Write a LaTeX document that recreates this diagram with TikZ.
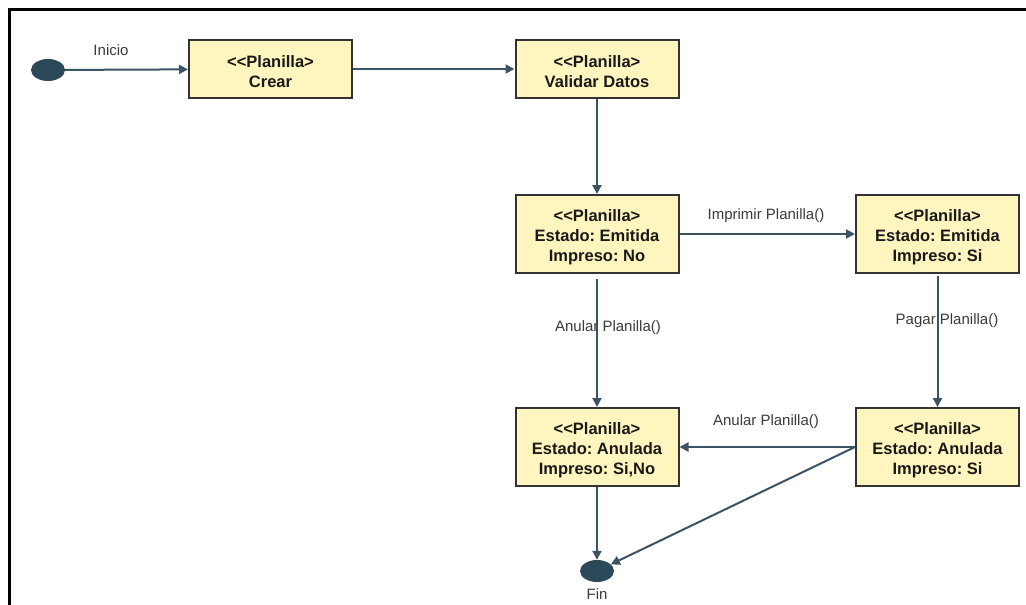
\documentclass[tikz,border=0pt]{standalone}
\usepackage{fontspec}
\setmainfont{Liberation Sans}[Ligatures=NoCommon]
\usetikzlibrary{arrows.meta,shapes.geometric}
\definecolor{boxfill}{HTML}{FFF6BF}
\definecolor{boxline}{HTML}{333333}
\definecolor{flow}{HTML}{3B5362}
\definecolor{blob}{HTML}{2C4959}
\definecolor{lbl}{HTML}{3A3A3A}
% stereotype line with a strut that sets the text a little lower in its box
\newcommand{\stereo}[1]{\rule{0pt}{18pt}{<}{<}#1{>}}
\tikzset{
  state/.style={draw=boxline, line width=2pt, fill=boxfill, rectangle,
    minimum width=163pt, align=center, text=black!90,
    font=\fontsize{16.5}{20}\selectfont\bfseries\frenchspacing, inner sep=0pt},
  twoline/.style={state, minimum height=58pt},
  threeline/.style={state, minimum height=78pt},
  terminal/.style={ellipse, fill=blob, draw=none, minimum width=34pt, minimum height=22pt, inner sep=0pt},
  flowline/.style={draw=flow, line width=2pt, -{Triangle[length=9pt,width=9pt]}},
  tlabel/.style={text=lbl, font=\fontsize{15}{16}\selectfont, inner sep=0pt}
}
\begin{document}
\begin{tikzpicture}[x=1pt,y=-1pt]
\useasboundingbox (0,0) rectangle (1026,605);
% frame
\draw[line width=3pt, black] (9.5,605) -- (9.5,9.5) -- (1026,9.5);

% states
\node[terminal] (ini) at (48,70) {};
\node[twoline] (crear) at (270.5,69) {\stereo{Planilla}\\Crear};
\node[twoline] (valid) at (597,69) {\stereo{Planilla}\\Validar Datos};
\node[threeline] (emno) at (597,234) {\stereo{Planilla}\\Estado: Emitida\\Impreso: No};
\node[threeline] (emsi) at (937.5,234) {\stereo{Planilla}\\Estado: Emitida\\Impreso: Si};
\node[threeline] (ansino) at (597,447) {\stereo{Planilla}\\Estado: Anulada\\Impreso: Si,No};
\node[threeline] (ansi) at (937.5,447) {\stereo{Planilla}\\Estado: Anulada\\Impreso: Si};
\node[terminal] (fin) at (597,571) {};

% transitions
\draw[flowline] (ini) -- (crear);
\draw[flowline] (crear) -- (valid);
\draw[flowline] (valid) -- (emno);
\draw[flowline] (emno) -- (emsi);
\draw[flowline, shorten <=5pt] (emno.south) -- (ansino.north);
\draw[flowline, shorten <=2pt] (emsi.south) -- (ansi.north);
\draw[flowline] (ansi.west) -- (ansino.east);
\draw[flowline] (ansino) -- (fin);
\draw[flowline] (ansi.west) -- (fin);

% labels
\node[tlabel] (linicio) at (111,50) {Inicio};
\node[tlabel] (limp) at (766,216) {Imprimir Planilla()};
\node[tlabel] (lanu1) at (608,328) {Anular Planilla()};
\node[tlabel] (lpag) at (947,321) {Pagar Planilla()};
\node[tlabel] (lanu2) at (766,422) {Anular Planilla()};
\node[tlabel] (lfin) at (597,594) {Fin};
\end{tikzpicture}
\end{document}
